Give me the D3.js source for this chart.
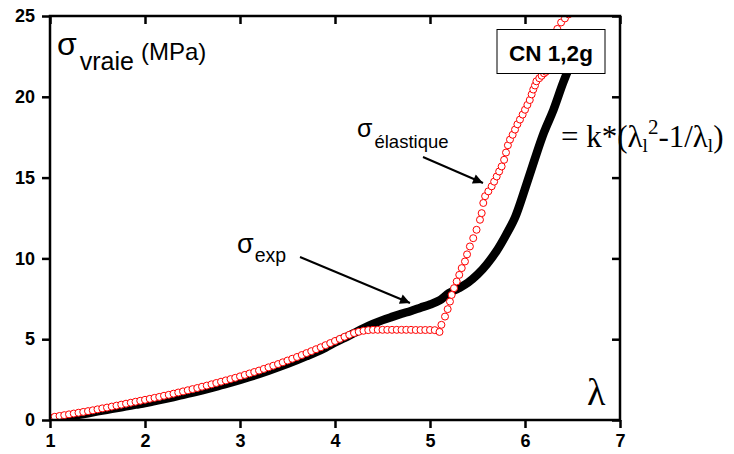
<!DOCTYPE html>
<html>
<head>
<meta charset="utf-8">
<script src="https://cdn.jsdelivr.net/npm/d3@7"></script>
<style>
  html, body { margin: 0; padding: 0; background: #fff; }
  svg { display: block; }
  .sans { font-family: "Liberation Sans", Arial, sans-serif; }
  .serif { font-family: "Liberation Serif", "Times New Roman", serif; }
</style>
</head>
<body>
<svg id="chart" width="734" height="454"></svg>
<script>
// ---- data ----
const lambdaTicks = [1, 2, 3, 4, 5, 6, 7];
const sigmaTicks = [0, 5, 10, 15, 20, 25];

// sigma_exp (black squares)
const sigmaExp = [
  [1.0,0.05],[1.1,0.12],[1.2,0.22],[1.3,0.32],[1.4,0.42],[1.5,0.53],[1.6,0.63],[1.7,0.74],
  [1.8,0.84],[1.9,0.95],[2.0,1.05],[2.1,1.17],[2.2,1.29],[2.3,1.42],[2.4,1.56],[2.5,1.70],
  [2.6,1.84],[2.7,1.99],[2.8,2.15],[2.9,2.31],[3.0,2.48],[3.1,2.66],[3.2,2.85],[3.3,3.05],
  [3.4,3.26],[3.5,3.48],[3.6,3.71],[3.7,3.95],[3.8,4.20],[3.9,4.48],[4.0,4.80],[4.1,5.08],
  [4.2,5.38],[4.3,5.68],[4.4,5.95],[4.5,6.18],[4.6,6.38],[4.7,6.57],[4.8,6.75],[4.9,6.95],
  [5.0,7.15],[5.1,7.40],[5.2,7.85],[5.3,8.15],[5.4,8.50],[5.5,9.00],[5.6,9.65],[5.7,10.45],
  [5.8,11.45],[5.9,12.60],[6.0,14.30],[6.1,16.10],[6.2,17.80],[6.3,19.20],[6.4,20.85],
  [6.5,22.30],[6.55,23.00]
];

// sigma_elastique (red open circles)
const sigmaElastique = [
  [1.00,0.15],[1.05,0.20],[1.10,0.25],[1.15,0.30],[1.20,0.35],[1.25,0.40],[1.30,0.45],[1.35,0.50],
  [1.40,0.55],[1.45,0.60],[1.50,0.66],[1.55,0.72],[1.60,0.77],[1.65,0.83],[1.70,0.89],[1.75,0.95],
  [1.80,1.01],[1.85,1.07],[1.90,1.13],[1.95,1.19],[2.00,1.25],[2.05,1.31],[2.10,1.37],[2.15,1.43],
  [2.20,1.50],[2.25,1.56],[2.30,1.63],[2.35,1.70],[2.40,1.77],[2.45,1.84],[2.50,1.91],[2.55,1.98],
  [2.60,2.06],[2.65,2.13],[2.70,2.21],[2.75,2.29],[2.80,2.37],[2.85,2.45],[2.90,2.53],[2.95,2.61],
  [3.00,2.70],[3.05,2.79],[3.10,2.88],[3.15,2.97],[3.20,3.06],[3.25,3.16],[3.30,3.26],[3.35,3.36],
  [3.40,3.46],[3.45,3.57],[3.50,3.68],[3.55,3.79],[3.60,3.90],[3.65,4.02],[3.70,4.14],[3.75,4.26],
  [3.80,4.38],[3.85,4.50],[3.90,4.63],[3.95,4.76],[4.00,4.89],[4.05,5.02],[4.10,5.15],[4.15,5.27],
  [4.20,5.38],[4.25,5.46],[4.30,5.52],[4.35,5.56],[4.40,5.58],[4.45,5.58],[4.50,5.58],[4.55,5.58],
  [4.60,5.58],[4.65,5.58],[4.70,5.58],[4.75,5.58],[4.80,5.58],[4.85,5.57],[4.90,5.57],[4.95,5.57],
  [5.00,5.57],[5.05,5.56],[5.10,5.45],
  [5.12,5.89],[5.158,6.40],[5.186,6.86],[5.21,7.33],[5.228,7.74],[5.253,8.16],[5.281,8.57],
  [5.308,8.98],[5.334,9.40],[5.368,9.81],[5.39,10.25],[5.42,10.74],[5.455,11.25],[5.49,11.77],
  [5.526,12.39],[5.544,12.80],[5.561,13.43],[5.58,13.85],[5.614,14.15],[5.649,14.46],[5.675,14.75],
  [5.702,15.07],[5.728,15.38],[5.754,15.69],[5.78,16.10],[5.80,16.55],[5.82,17.00],[5.842,17.35],
  [5.87,17.65],[5.895,17.97],[5.92,18.30],[5.947,18.59],[5.975,18.90],[6.00,19.20],[6.025,19.50],
  [6.05,19.80],[6.07,20.15],[6.087,20.45],[6.105,20.70],[6.12,20.96],[6.15,21.15],[6.175,21.30],
  [6.20,21.45],[6.22,21.55],[6.25,22.20],[6.28,22.90],[6.31,23.60],[6.34,24.20],[6.38,24.60],
  [6.42,24.85],[6.46,25.10]
];

// ---- chart ----
const svg = d3.select("#chart");
const x = d3.scaleLinear().domain([1, 7]).range([50, 620]);
const y = d3.scaleLinear().domain([0, 25]).range([420, 16]);

const defs = svg.append("defs");
defs.append("clipPath").attr("id", "plotClip")
  .append("rect").attr("x", x(1)).attr("y", y(25)).attr("width", x(7) - x(1)).attr("height", y(0) - y(25));
const mk = defs.append("marker").attr("id", "arrow").attr("viewBox", "0 0 10 10")
  .attr("refX", 10).attr("refY", 5).attr("markerWidth", 7).attr("markerHeight", 5)
  .attr("markerUnits", "strokeWidth").attr("orient", "auto");
mk.append("path").attr("d", "M0,0 L10,5 L0,10 Z").attr("fill", "#000");

const plot = svg.append("g").attr("clip-path", "url(#plotClip)");

// black thick curve
plot.append("path").datum(sigmaExp)
  .attr("d", d3.line().x(d => x(d[0])).y(d => y(d[1])).curve(d3.curveMonotoneX))
  .attr("fill", "none").attr("stroke", "#000").attr("stroke-width", 8.5)
  .attr("stroke-linejoin", "round").attr("stroke-linecap", "square");

// red open circles
plot.selectAll("circle.el").data(sigmaElastique).join("circle")
  .attr("class", "el")
  .attr("cx", d => x(d[0])).attr("cy", d => y(d[1])).attr("r", 3.5)
  .attr("fill", "#fff").attr("stroke", "#ff0000").attr("stroke-width", 1);

// axes
const tickFont = g => g.selectAll("text")
  .attr("class", "sans")
  .attr("font-weight", "bold").attr("font-size", 18).attr("fill", "#000");

const axB = svg.append("g").attr("transform", `translate(0,${y(0)})`)
  .call(d3.axisBottom(x).tickValues(lambdaTicks).tickFormat(d3.format("d")).tickSize(8).tickPadding(6));
axB.call(tickFont);
const axL = svg.append("g").attr("transform", `translate(${x(1)},0)`)
  .call(d3.axisLeft(y).tickValues(sigmaTicks).tickFormat(d3.format("d")).tickSize(8).tickPadding(7));
axL.call(tickFont);
const axT = svg.append("g").attr("transform", `translate(0,${y(25)})`)
  .call(d3.axisTop(x).tickValues(lambdaTicks).tickSize(-8).tickFormat(""));
const axR = svg.append("g").attr("transform", `translate(${x(7)},0)`)
  .call(d3.axisRight(y).tickValues(sigmaTicks).tickSize(-8).tickFormat(""));
[axB, axL, axT, axR].forEach(a => {
  a.attr("font-family", null);
  a.select(".domain").remove();
  a.selectAll(".tick line").attr("stroke", "#000").attr("stroke-width", 2.5);
});
svg.append("rect").attr("x", x(1)).attr("y", y(25))
  .attr("width", x(7) - x(1)).attr("height", y(0) - y(25))
  .attr("fill", "none").attr("stroke", "#000").attr("stroke-width", 2.5);

// y-axis title inside plot
const yt = svg.append("text").attr("class", "sans").attr("x", 57).attr("y", 55).attr("fill", "#000");
yt.append("tspan").attr("font-size", 32).text("σ");
yt.append("tspan").attr("font-size", 25).attr("dy", 15).attr("dx", 3).text("vraie");
yt.append("tspan").attr("font-size", 24).attr("dy", -10).attr("dx", 7).text("(MPa)");

// x-axis title
svg.append("text").attr("class", "serif").attr("x", 587).attr("y", 405)
  .attr("font-size", 38).attr("fill", "#000").text("λ");

// CN 1,2g box
svg.append("rect").attr("x", 497).attr("y", 29.5).attr("width", 108).attr("height", 44)
  .attr("fill", "#fff").attr("stroke", "#000").attr("stroke-width", 1);
svg.append("text").attr("class", "sans").attr("x", 551).attr("y", 61).attr("text-anchor", "middle")
  .attr("font-weight", "bold").attr("font-size", 22.5).attr("fill", "#000").text("CN 1,2g");

// formula
const fm = svg.append("text").attr("class", "serif").attr("x", 561).attr("y", 147)
  .attr("font-size", 31).attr("fill", "#000");
fm.append("tspan").text("= k*(λ");
fm.append("tspan").attr("font-size", 19).attr("dy", 5).text("l");
fm.append("tspan").attr("font-size", 21).attr("dy", -18).text("2");
fm.append("tspan").attr("dy", 13).text("-1/λ");
fm.append("tspan").attr("font-size", 19).attr("dy", 5).text("l");
fm.append("tspan").attr("dy", -5).text(")");

// sigma elastique label + arrow
const el = svg.append("text").attr("class", "sans").attr("x", 357).attr("y", 137).attr("fill", "#000");
el.append("tspan").attr("font-size", 25).text("σ");
el.append("tspan").attr("font-size", 18.5).attr("dy", 11).attr("dx", 2).text("élastique");
svg.append("line").attr("x1", 423).attr("y1", 157).attr("x2", 483).attr("y2", 183)
  .attr("stroke", "#000").attr("stroke-width", 2).attr("marker-end", "url(#arrow)");

// sigma exp label + arrow
const ex = svg.append("text").attr("class", "sans").attr("x", 237).attr("y", 253).attr("fill", "#000");
ex.append("tspan").attr("font-size", 27).text("σ");
ex.append("tspan").attr("font-size", 19.5).attr("dy", 9).attr("dx", 1).text("exp");
svg.append("line").attr("x1", 300).attr("y1", 257).attr("x2", 410).attr("y2", 303)
  .attr("stroke", "#000").attr("stroke-width", 2).attr("marker-end", "url(#arrow)");
</script>
</body>
</html>
